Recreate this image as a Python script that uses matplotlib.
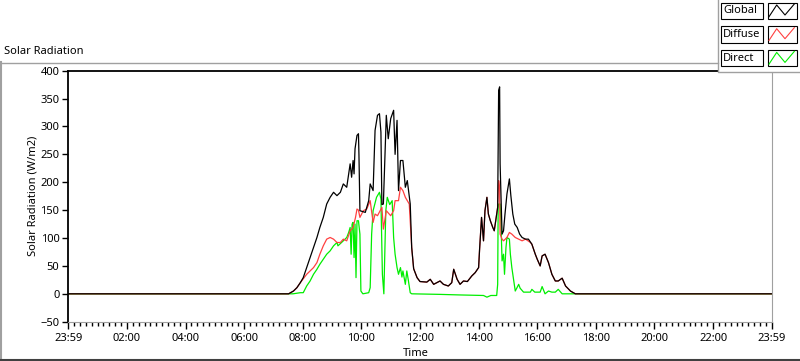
import matplotlib
matplotlib.use('Agg')
import numpy as np
import matplotlib.pyplot as plt
from matplotlib.patches import Rectangle
from matplotlib.ticker import MultipleLocator

plt.rcParams['font.family'] = ['Noto Sans', 'DejaVu Sans']

# minutes after 23:59 and W/m2
global_t = [0, 451, 461, 468, 475, 481, 488, 495, 502, 509, 515, 522, 529, 536,
            543, 550, 557, 563, 570, 577, 580, 583, 585, 587, 591, 594, 595, 597,
            608, 615, 618, 624, 628, 633, 637, 640, 642, 645, 651, 655, 660, 666,
            669, 673, 676, 680, 685, 690, 694, 700, 703, 707, 714, 720, 734, 741,
            748, 761, 768, 778, 785, 789, 796, 802, 809, 817, 826, 833, 840, 842,
            846, 850, 853, 857, 860, 864, 869, 872, 876, 879, 881, 883, 884, 888,
            891, 894, 898, 903, 906, 910, 914, 919, 924, 929, 936, 942, 949, 956,
            960, 966, 970, 976, 983, 990, 997, 1003, 1011, 1018, 1028, 1038, 1440]
global_v = [0, 0, 5, 11, 20, 29, 47, 65, 83, 101, 119, 137, 161, 173,
            182, 176, 182, 197, 191, 233, 209, 239, 215, 260, 284, 287, 250, 149,
            146, 167, 197, 185, 293, 320, 323, 290, 160, 161, 320, 278, 314, 329,
            250, 311, 185, 239, 239, 191, 203, 161, 83, 45, 29, 22, 21, 26,
            17, 23, 17, 14, 20, 44, 26, 17, 23, 22, 32, 38, 47, 80,
            137, 95, 149, 173, 143, 131, 119, 113, 137, 155, 365, 371, 233, 107,
            113, 143, 179, 206, 176, 143, 125, 119, 107, 101, 98, 98, 89, 71,
            62, 50, 68, 71, 56, 35, 23, 23, 28, 14, 5, 0, 0]

diffuse_t = [0, 451, 461, 468, 475, 488, 502, 509, 515, 522, 529, 536, 543, 550,
             557, 563, 570, 577, 583, 588, 591, 594, 597, 604, 611, 618, 624, 628,
             633, 642, 645, 651, 660, 666, 669, 676, 680, 685, 690, 698, 703, 707,
             714, 720, 734, 741, 748, 761, 768, 778, 785, 789, 796, 802, 809, 817,
             826, 833, 840, 842, 846, 850, 853, 857, 860, 864, 869, 872, 876, 879,
             881, 883, 884, 888, 891, 898, 903, 908, 915, 922, 929, 936, 946, 949,
             956, 960, 966, 970, 976, 983, 990, 997, 1003, 1011, 1018, 1028, 1038, 1440]
diffuse_v = [0, 0, 5, 11, 20, 35, 47, 56, 71, 86, 98, 101, 98, 92,
             92, 98, 95, 113, 119, 137, 152, 150, 137, 149, 152, 167, 128, 143,
             140, 155, 116, 149, 140, 149, 167, 167, 191, 185, 173, 161, 83, 45,
             29, 22, 21, 26, 17, 23, 17, 14, 20, 44, 26, 17, 23, 22,
             32, 38, 47, 80, 137, 95, 149, 173, 143, 131, 119, 113, 137, 155,
             203, 190, 107, 98, 95, 101, 110, 107, 101, 98, 95, 98, 92, 89,
             71, 62, 50, 68, 71, 56, 35, 23, 23, 28, 14, 5, 0, 0]

direct_t = [0, 460, 475, 481, 488, 495, 502, 509, 515, 522, 529, 536, 543, 550,
            552, 557, 563, 570, 574, 577, 579, 581, 583, 585, 587, 589, 591, 594,
            597, 599, 603, 615, 618, 621, 624, 631, 637, 640, 643, 646, 650, 653,
            658, 663, 666, 669, 673, 676, 680, 683, 685, 690, 693, 696, 700, 703,
            760, 800, 850, 857, 865, 877, 879, 880, 881, 884, 886, 888, 891, 893,
            896, 898, 903, 905, 908, 912, 915, 918, 922, 925, 932, 946, 949, 955,
            966, 970, 976, 983, 990, 997, 1003, 1011, 1040, 1440]
direct_v = [0, 0, 2, 2, 14, 23, 35, 44, 53, 62, 71, 77, 86, 92,
            86, 90, 95, 101, 110, 119, 71, 125, 128, 65, 125, 29, 131, 131,
            107, 5, 0, 2, 11, 107, 149, 173, 182, 170, 35, 0, 149, 173,
            160, 167, 101, 71, 47, 35, 47, 30, 41, 17, 41, 25, 2, 0,
            -1, -2, -3, -6, -3, -3, 17, 155, 161, 161, 119, 59, 71, 35,
            83, 101, 98, 71, 47, 23, 5, 10, 17, 10, 3, 3, 8, 3,
            3, 13, 0, 5, 3, 3, 8, 0, 0, 0]

tick_labels = ['23:59', '02:00', '04:00', '06:00', '08:00', '10:00', '12:00',
               '14:00', '16:00', '18:00', '20:00', '22:00', '23:59']
series_names = ['Global', 'Diffuse', 'Direct']
series_colors = ['black', '#ff4040', '#00ee00']

W, H = 800, 361
fig = plt.figure(figsize=(W / 100, H / 100), dpi=100)
ax = fig.add_axes([68.3 / W, 1 - 321.7 / H, (771.7 - 68.3) / W, (321.7 - 70.7) / H])

ax.plot(direct_t, direct_v, color=series_colors[2], lw=0.9)
ax.plot(diffuse_t, diffuse_v, color=series_colors[1], lw=0.9)
ax.plot(global_t, global_v, color=series_colors[0], lw=0.9)

ax.set_xlim(0, 1440)
ax.set_ylim(-50, 400)
ax.set_xticks(np.arange(0, 1441, 120))
ax.set_xticklabels(tick_labels)
ax.xaxis.set_minor_locator(MultipleLocator(12))
ax.set_yticks(np.arange(-50, 401, 50))
ax.tick_params(axis='both', labelsize=8, color='black', width=1)
ax.tick_params(axis='x', which='major', length=5, pad=3)
ax.tick_params(axis='x', which='minor', length=3, width=1)
ax.tick_params(axis='y', length=4.5, pad=2)

ax.spines['left'].set_color('black')
ax.spines['left'].set_linewidth(1.3)
ax.spines['top'].set_color('black')
ax.spines['top'].set_linewidth(1.3)
ax.spines['right'].set_color('#a0a0a0')
ax.spines['bottom'].set_color('#a0a0a0')
ax.spines['right'].set_linewidth(0.8)
ax.spines['bottom'].set_linewidth(0.8)

ax.set_ylabel('Solar Radiation (W/m2)', fontsize=8, labelpad=1)

# overlay in pixel coordinates for the panel frame and the plot legend
ov = fig.add_axes([0, 0, 1, 1], zorder=10)
ov.set_xlim(0, W)
ov.set_ylim(H, 0)
ov.axis('off')
ov.patch.set_alpha(0)

ov.plot([0, 718], [62.5, 62.5], color='#a0a0a0', lw=1)
ov.plot([0.8, 0.8], [62, H], color='#a0a0a0', lw=1.5)
ov.plot([0, W], [360, 360], color='#404040', lw=1.5)

ov.text(4, 51, 'Solar Radiation', fontsize=8, va='center', ha='left')
ov.text(416, 353, 'Time', fontsize=8, va='center', ha='center')

ov.add_patch(Rectangle((718, 0), 82, 72, facecolor='white', edgecolor='none'))
ov.plot([718, 718, W], [0, 72, 72], color='#a0a0a0', lw=1)
for i, name in enumerate(series_names):
    top = 2.7 + i * 23.7
    ov.add_patch(Rectangle((720.7, top), 42.6, 16.3, facecolor='white',
                           edgecolor='black', lw=0.8))
    ov.add_patch(Rectangle((767.7, top), 29, 16.3, facecolor='white',
                           edgecolor='black', lw=0.8))
    ov.text(723, top + 8.2, name, fontsize=8, va='center', ha='left')
    ov.plot([769, 776.7, 785, 794.3],
            [top + 14, top + 2.3, top + 12.3, top + 1.3],
            color=series_colors[i], lw=0.8)

fig.savefig('out.png', dpi=100)
